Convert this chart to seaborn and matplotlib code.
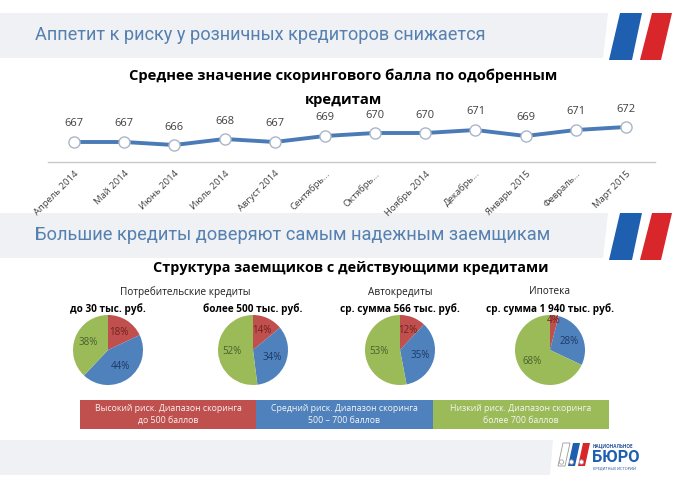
import numpy as np
import pandas as pd
import matplotlib
matplotlib.use("Agg")
import matplotlib.pyplot as plt
from matplotlib import font_manager as fm
from matplotlib.patches import Polygon, Rectangle, Circle
import seaborn as sns

# ---------------- data ----------------
months = ['Апрель 2014', 'Май 2014', 'Июнь 2014', 'Июль 2014', 'Август 2014',
          'Сентябрь...', 'Октябрь...', 'Ноябрь 2014', 'Декабрь...', 'Январь 2015',
          'Февраль...', 'Март 2015']
scores = [667, 667, 666, 668, 667, 669, 670, 670, 671, 669, 671, 672]

pie_groups = ['Потребительские кредиты', 'Автокредиты', 'Ипотека']
pie_subtitles = ['до 30 тыс. руб.', 'более 500 тыс. руб.',
                 'ср. сумма 566 тыс. руб.', 'ср. сумма 1 940 тыс. руб.']
high_risk = [18, 14, 12, 4]
mid_risk = [44, 34, 35, 28]
low_risk = [38, 52, 53, 68]
risk_labels = ['Высокий риск. Диапазон скоринга\nдо 500 баллов',
               'Средний риск. Диапазон скоринга\n500 – 700 баллов',
               'Низкий риск. Диапазон скоринга\nболее 700 баллов']

header1 = 'Аппетит к риску у розничных кредиторов снижается'
header2 = 'Большие кредиты доверяют самым надежным заемщикам'
title1 = ['Среднее значение скорингового балла по одобренным', 'кредитам']
title2 = 'Структура заемщиков с действующими кредитами'

# ---------------- style ----------------
sns.set_theme(style='white')


def has_font(name):
    try:
        fm.findfont(fm.FontProperties(family=name), fallback_to_default=False)
        return True
    except Exception:
        return False


NARROW = 'Liberation Sans Narrow' if has_font('Liberation Sans Narrow') else 'Roboto'
BODY = 'Open Sans' if has_font('Open Sans') else 'DejaVu Sans'
plt.rcParams['font.family'] = [BODY, 'DejaVu Sans']

RED, BLUE, GREEN = '#c0504d', '#4f81bd', '#9bbb59'
STRIPE_BLUE, STRIPE_RED = '#1f5fb0', '#d9262b'
HEAD_COLOR = '#5580b0'
BAND = '#eff1f4'

W, H = 690, 488
fig = plt.figure(figsize=(W / 100, H / 100), dpi=100)
fig.patch.set_facecolor('white')

# overlay axes in pixel coordinates
bg = fig.add_axes([0, 0, 1, 1], zorder=0)
bg.set_xlim(0, W)
bg.set_ylim(H, 0)
bg.axis('off')

renderer = fig.canvas.get_renderer()


def fit_text(x, y, s, width, **kw):
    t = bg.text(x, y, s, **kw)
    bb = t.get_window_extent(renderer=renderer)
    fs = t.get_fontsize() * width / bb.width
    t.set_fontsize(fs)
    return t


def header(y0):
    y1 = y0 + 45
    bg.add_patch(Polygon([(0, y0), (608, y0), (603, y1), (0, y1)], closed=True,
                         facecolor=BAND, edgecolor='none'))
    ys, ye = y0, y0 + 47
    bg.add_patch(Polygon([(620, ys), (642, ys), (632, ye), (609, ye)], closed=True,
                         facecolor=STRIPE_BLUE, edgecolor='none'))
    bg.add_patch(Polygon([(652, ys), (672, ys), (661, ye), (640, ye)], closed=True,
                         facecolor=STRIPE_RED, edgecolor='none'))


header(13)
fit_text(35, 35, header1, 452, fontsize=15, color=HEAD_COLOR, ha='left', va='center',
         family=[NARROW, 'DejaVu Sans'])
header(213)
fit_text(35, 235, header2, 518, fontsize=15, color=HEAD_COLOR, ha='left', va='center',
         family=[NARROW, 'DejaVu Sans'])

# chart titles
t_first = fit_text(343, 76, title1[0], 427, fontsize=12, weight='bold', color='black',
                   ha='center', va='center')
bg.text(343, 100, title1[1], fontsize=t_first.get_fontsize(), weight='bold',
        color='black', ha='center', va='center')
fit_text(351, 268, title2, 393, fontsize=12, weight='bold', color='black',
         ha='center', va='center')

# ---------------- line chart ----------------
ax_l, ax_r, ax_t, ax_b = 48, 655, 105, 162
lax = fig.add_axes([ax_l / W, 1 - ax_b / H, (ax_r - ax_l) / W, (ax_b - ax_t) / H], zorder=2)
lax.patch.set_alpha(0)
df = pd.DataFrame({'pos': np.arange(len(months)), 'score': scores})
sns.lineplot(data=df, x='pos', y='score', ax=lax, color='#4a7bb7', linewidth=2.8,
             marker='o', markersize=8, markerfacecolor='white',
             markeredgecolor='#a9b6c8', markeredgewidth=1.0)
# x: 0 -> px 74, 11 -> px 626
step = (626 - 74) / 11
lax.set_xlim(-(74 - ax_l) / step, 11 + (ax_r - 626) / step)
# y: 3 px per point, 667 -> px 142
ppu = 3.0
lax.set_ylim(667 - (ax_b - 142) / ppu, 667 + (142 - ax_t) / ppu)
for i, v in enumerate(scores):
    lax.annotate(str(v), (i, v), xytext=(0, 9), textcoords='offset points',
                 ha='center', va='bottom', fontsize=8, color='#404040')
lax.set_xticks(np.arange(len(months)))
lax.set_xticklabels(months, rotation=45, ha='right', rotation_mode='anchor',
                    fontsize=6.8, color='#404040')
lax.tick_params(axis='x', length=0, pad=5)
lax.set_yticks([])
lax.set_xlabel('')
lax.set_ylabel('')
for s in ['top', 'left', 'right']:
    lax.spines[s].set_visible(False)
lax.spines['bottom'].set_color('#c8c8c8')
lax.spines['bottom'].set_linewidth(1)

# ---------------- pies ----------------
centers = [108, 253, 400, 550]
cy, r = 350, 35
label_cols = ['#6e211f', '#1d3a63', '#48602a']
for k, cx in enumerate(centers):
    pax = fig.add_axes([(cx - r) / W, 1 - (cy + r) / H, 2 * r / W, 2 * r / H], zorder=2)
    vals = [high_risk[k], mid_risk[k], low_risk[k]]
    wedges, texts, autotexts = pax.pie(vals, colors=[RED, BLUE, GREEN], startangle=90,
                                       counterclock=False, radius=1,
                                       autopct=lambda p: f'{round(p)}%', pctdistance=0.6,
                                       wedgeprops=dict(linewidth=0),
                                       textprops=dict(fontsize=7))
    for j, at in enumerate(autotexts):
        at.set_color(label_cols[j])
        if vals[j] < 8:
            x, y = at.get_position()
            at.set_position((x / 0.6 * 0.85, y / 0.6 * 0.85))
    pax.set_xlim(-1, 1)
    pax.set_ylim(-1, 1)
    pax.set_aspect('equal')
    pax.axis('off')

group_x = [(centers[0] + centers[1]) / 2 + 5, centers[2], centers[3]]
for gx, g in zip(group_x, pie_groups):
    bg.text(gx, 292, g, fontsize=7.2, color='#202020', ha='center', va='center')
for cx, s in zip(centers, pie_subtitles):
    bg.text(cx, 309, s, fontsize=7.2, weight='bold', color='black', ha='center', va='center')

# ---------------- risk legend boxes ----------------
box_x = [80, 256, 433, 609]
for j, (col, lab) in enumerate(zip([RED, BLUE, GREEN], risk_labels)):
    bg.add_patch(Rectangle((box_x[j], 400), box_x[j + 1] - box_x[j], 29,
                           facecolor=col, edgecolor='none'))
    bg.text((box_x[j] + box_x[j + 1]) / 2, 414.5, lab, fontsize=6.3, color='#f4f4f4',
            ha='center', va='center', linespacing=1.45)

# ---------------- footer ----------------
bg.add_patch(Polygon([(0, 440), (553, 440), (550, 475), (0, 475)], closed=True,
                     facecolor=BAND, edgecolor='none'))
for i, col in enumerate(['white', STRIPE_BLUE, STRIPE_RED]):
    x0 = 558 + i * 10
    bg.add_patch(Polygon([(x0 + 5, 443), (x0 + 12, 443), (x0 + 7, 466), (x0, 466)],
                         closed=True, facecolor=col,
                         edgecolor='#9a9a9a' if col == 'white' else 'none', linewidth=0.6))
    bg.add_patch(Circle((x0 + 3.5, 462), 2.2, facecolor='white',
                        edgecolor='#9a9a9a', linewidth=0.5))
bg.text(593, 446, 'НАЦИОНАЛЬНОЕ', fontsize=3.3, weight='bold', color='#1f4e9a',
        ha='left', va='center')
fit_text(592, 458, 'БЮРО', 48, fontsize=14, weight='bold', color=STRIPE_BLUE,
         ha='left', va='center', family=[NARROW, 'DejaVu Sans'])
bg.text(593, 469, 'КРЕДИТНЫХ ИСТОРИЙ', fontsize=2.8, color='#1f4e9a',
        ha='left', va='center')

fig.savefig('out.png', dpi=100)
